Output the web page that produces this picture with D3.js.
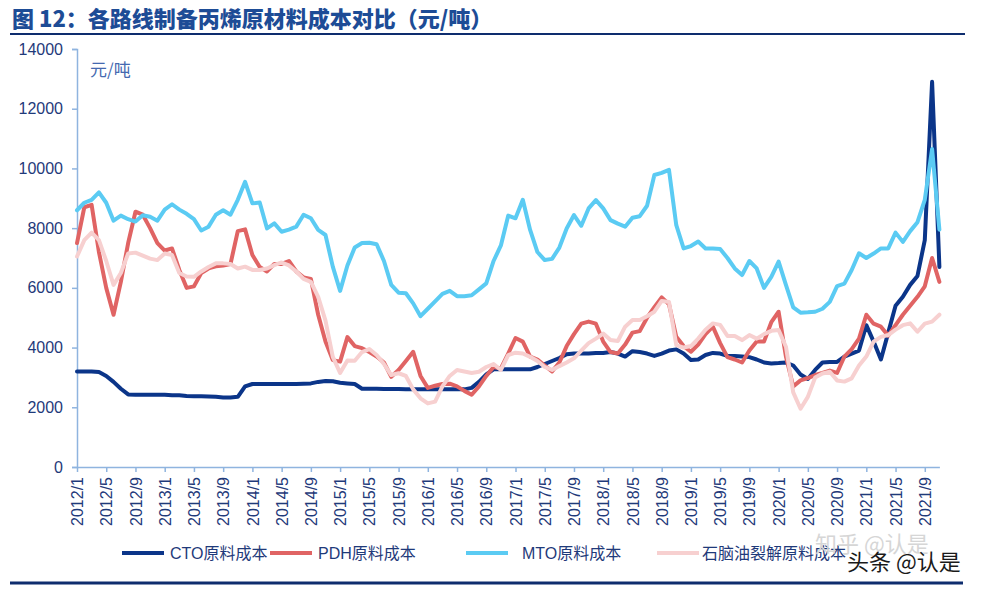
<!DOCTYPE html>
<html><head><meta charset="utf-8">
<script src="https://cdn.jsdelivr.net/npm/d3@7/dist/d3.min.js"></script>
<style>
html,body{margin:0;padding:0;background:#fff;}
svg{display:block;font-family:"Liberation Sans",Arial,"Noto Sans CJK SC",sans-serif;}
</style></head>
<body>
<svg id="chart" width="996" height="589"></svg>
<script>
// ---- data ----
const startYear = 2012, nMonths = 119; // 2012/1 .. 2021/11
const categories = [];
for (let i = 0; i < nMonths; i++) {
  categories.push((startYear + Math.floor(i / 12)) + "/" + (i % 12 + 1));
}
const tickLabels = ["2012/1","2012/5","2012/9","2013/1","2013/5","2013/9","2014/1","2014/5","2014/9",
  "2015/1","2015/5","2015/9","2016/1","2016/5","2016/9","2017/1","2017/5","2017/9","2018/1","2018/5",
  "2018/9","2019/1","2019/5","2019/9","2020/1","2020/5","2020/9","2021/1","2021/5","2021/9"];
const yTicks = [0,2000,4000,6000,8000,10000,12000,14000];

const cto = [3200,3200,3200,3180,3050,2850,2620,2430,2420,2420,2420,2420,2420,2400,2400,2380,2370,2370,2360,2350,
  2330,2330,2350,2700,2780,2780,2780,2780,2780,2780,2780,2790,2800,2850,2880,2870,2820,2800,2780,2620,
  2620,2620,2610,2610,2610,2600,2600,2600,2600,2600,2600,2600,2600,2600,2650,2850,3100,3270,3270,3270,
  3270,3270,3270,3350,3450,3550,3650,3780,3800,3800,3800,3820,3820,3850,3800,3700,3880,3850,3800,3720,
  3800,3900,3940,3800,3580,3600,3750,3820,3800,3720,3720,3700,3680,3600,3500,3470,3480,3500,3400,3100,
  2950,3250,3500,3520,3520,3700,3800,3900,4750,4200,3600,4500,5400,5700,6100,6400,7600,12900,6700];
const pdh = [7500,8700,8780,7200,6000,5100,6200,7500,8550,8450,8000,7500,7250,7320,6600,6000,6050,6500,6650,6720,
  6750,6800,7900,7960,7100,6700,6550,6800,6800,6900,6550,6350,6300,5100,4200,3580,3530,4350,4050,3980,
  3850,3700,3500,3020,3250,3550,3860,3050,2650,2720,2780,2790,2700,2550,2420,2700,3050,3350,3300,3800,
  4320,4200,3700,3600,3400,3200,3500,4050,4450,4800,4870,4800,4200,3850,3800,4100,4500,4550,5000,5350,
  5680,5450,4360,4050,3860,4100,4450,4700,4150,3680,3600,3500,3900,4200,4200,4850,5200,3700,2700,2900,
  2980,3080,3150,3230,3150,3700,3950,4300,5100,4800,4700,4400,4750,5100,5400,5700,6050,7000,6200];
const mto = [8600,8850,8950,9200,8850,8250,8420,8300,8220,8430,8380,8250,8620,8800,8620,8480,8300,7920,8050,8450,
  8600,8450,8950,9550,8830,8860,7990,8160,7880,7950,8050,8450,8330,7940,7770,6710,5900,6750,7350,7500,
  7510,7460,6900,6100,5840,5820,5480,5050,5300,5550,5800,5900,5720,5720,5750,5950,6150,6900,7420,8420,
  8330,8950,7940,7200,6930,6970,7350,7990,8440,8080,8660,8940,8660,8270,8150,8050,8350,8400,8750,9780,
  9850,9950,8100,7320,7400,7550,7320,7320,7300,7000,6650,6430,6900,6650,6000,6370,6880,6100,5350,5170,
  5180,5200,5300,5530,6060,6140,6600,7160,7000,7150,7320,7320,7850,7540,7900,8200,8950,10650,7950];
const naphtha = [7050,7600,7850,7600,6900,6100,6500,7150,7180,7080,6980,6930,7150,7100,6500,6380,6370,6550,6700,6820,
  6820,6800,6650,6710,6600,6600,6650,6760,6850,6750,6550,6300,6200,5700,4900,3690,3150,3570,3560,3850,
  3950,3750,3450,3080,3140,3050,2600,2300,2130,2190,2700,3050,3250,3200,3150,3190,3350,3450,3250,3750,
  3830,3800,3690,3550,3350,3250,3380,3500,3640,3900,4150,4300,4470,4250,4220,4700,4920,4920,5050,5200,
  5560,5530,4080,4000,4050,4300,4600,4810,4760,4390,4390,4250,4420,4300,4450,4560,4590,4030,2500,1950,
  2350,3000,3130,3190,2900,2860,2970,3400,3700,4200,4360,4420,4600,4750,4810,4530,4800,4870,5100];

const seriesNames = ["CTO原料成本","PDH原料成本","MTO原料成本","石脑油裂解原料成本"];
const seriesColors = ["#0B3589","#E06464","#5BCBF3","#F7D0D0"];
const seriesData = [cto, pdh, mto, naphtha];

// ---- chart ----
const svg = d3.select("#chart");
const navy = "#1F3A7A";
const axisColor = "#8FB4DF";

// title
svg.append("text").attr("x", 12).attr("y", 27)
  .attr("font-size", 22).attr("font-weight", "900").attr("fill", "#1D4C96")
  .attr("font-family", "'Noto Sans CJK SC','Liberation Sans',sans-serif")
  .text("图 12：各路线制备丙烯原材料成本对比（元/吨）");
svg.append("line").attr("x1", 10).attr("x2", 965).attr("y1", 34).attr("y2", 34)
  .attr("stroke", "#0E2D6E").attr("stroke-width", 2);

const x = d3.scalePoint().domain(categories).range([77, 939.4]);
const y = d3.scaleLinear().domain([0, 14000]).range([467, 49]);

// y axis
const ya = svg.append("g").attr("transform", "translate(77,0)")
  .call(d3.axisLeft(y).tickValues(yTicks).tickSize(5).tickPadding(9).tickFormat(d3.format("d")));
ya.select(".domain").attr("stroke", axisColor).attr("stroke-width", 1.5);
ya.selectAll(".tick line").attr("stroke", axisColor).attr("stroke-width", 1.5);
ya.selectAll(".tick text").attr("fill", navy).attr("font-size", 16)
  .attr("font-family", "'Liberation Sans',Arial,sans-serif");

// x axis
const xa = svg.append("g").attr("transform", "translate(0,467)")
  .call(d3.axisBottom(x).tickValues(tickLabels).tickSize(5).tickSizeOuter(0));
xa.select(".domain").attr("stroke", axisColor).attr("stroke-width", 1.5);
xa.selectAll(".tick line").attr("stroke", axisColor).attr("stroke-width", 1.5);
xa.selectAll(".tick text").attr("fill", navy).attr("font-size", 16)
  .attr("font-family", "'Liberation Sans',Arial,sans-serif")
  .attr("transform", "rotate(-90)")
  .attr("text-anchor", "end").attr("dy", "0.35em").attr("x", -10).attr("y", 0);

// unit label
svg.append("text").attr("x", 90).attr("y", 76).attr("font-size", 17).attr("fill", "#4569B0")
  .attr("font-family", "'Noto Sans CJK SC',sans-serif").text("元/吨");

// lines
const line = d3.line().x((d, i) => x(categories[i])).y(d => y(d));
seriesData.forEach((s, k) => {
  svg.append("path").datum(s).attr("d", line).attr("fill", "none")
    .attr("stroke", seriesColors[k]).attr("stroke-width", 4)
    .attr("stroke-linejoin", "round").attr("stroke-linecap", "round");
});

// legend
const legendPos = [{lx: 122, tx: 170}, {lx: 270, tx: 318}, {lx: 466, tx: 522}, {lx: 657, tx: 702}];
seriesNames.forEach((n, k) => {
  const p = legendPos[k];
  svg.append("line").attr("x1", p.lx).attr("x2", p.lx + 42).attr("y1", 553).attr("y2", 553)
    .attr("stroke", seriesColors[k]).attr("stroke-width", 4);
  svg.append("text").attr("x", p.tx).attr("y", 559).attr("font-size", 16).attr("fill", navy)
    .attr("font-family", "'Liberation Sans','Noto Sans CJK SC',sans-serif").text(n);
});

// bottom rule
svg.append("line").attr("x1", 10).attr("x2", 963).attr("y1", 583).attr("y2", 583)
  .attr("stroke", "#0E2D6E").attr("stroke-width", 3);

// watermarks (overlaid on the legend as in the reference image)
svg.append("text").attr("x", 815).attr("y", 552).attr("font-size", 22).attr("fill", "#d6d6d6")
  .attr("font-family", "'Noto Sans CJK SC',sans-serif").text("知乎 @认是");
svg.append("text").attr("x", 847).attr("y", 570).attr("font-size", 22).attr("fill", "#1a1a1a")
  .attr("stroke", "#fff").attr("stroke-width", 0.6).attr("paint-order", "stroke")
  .attr("font-family", "'Noto Sans CJK SC',sans-serif").text("头条 @认是");
</script>
</body></html>
